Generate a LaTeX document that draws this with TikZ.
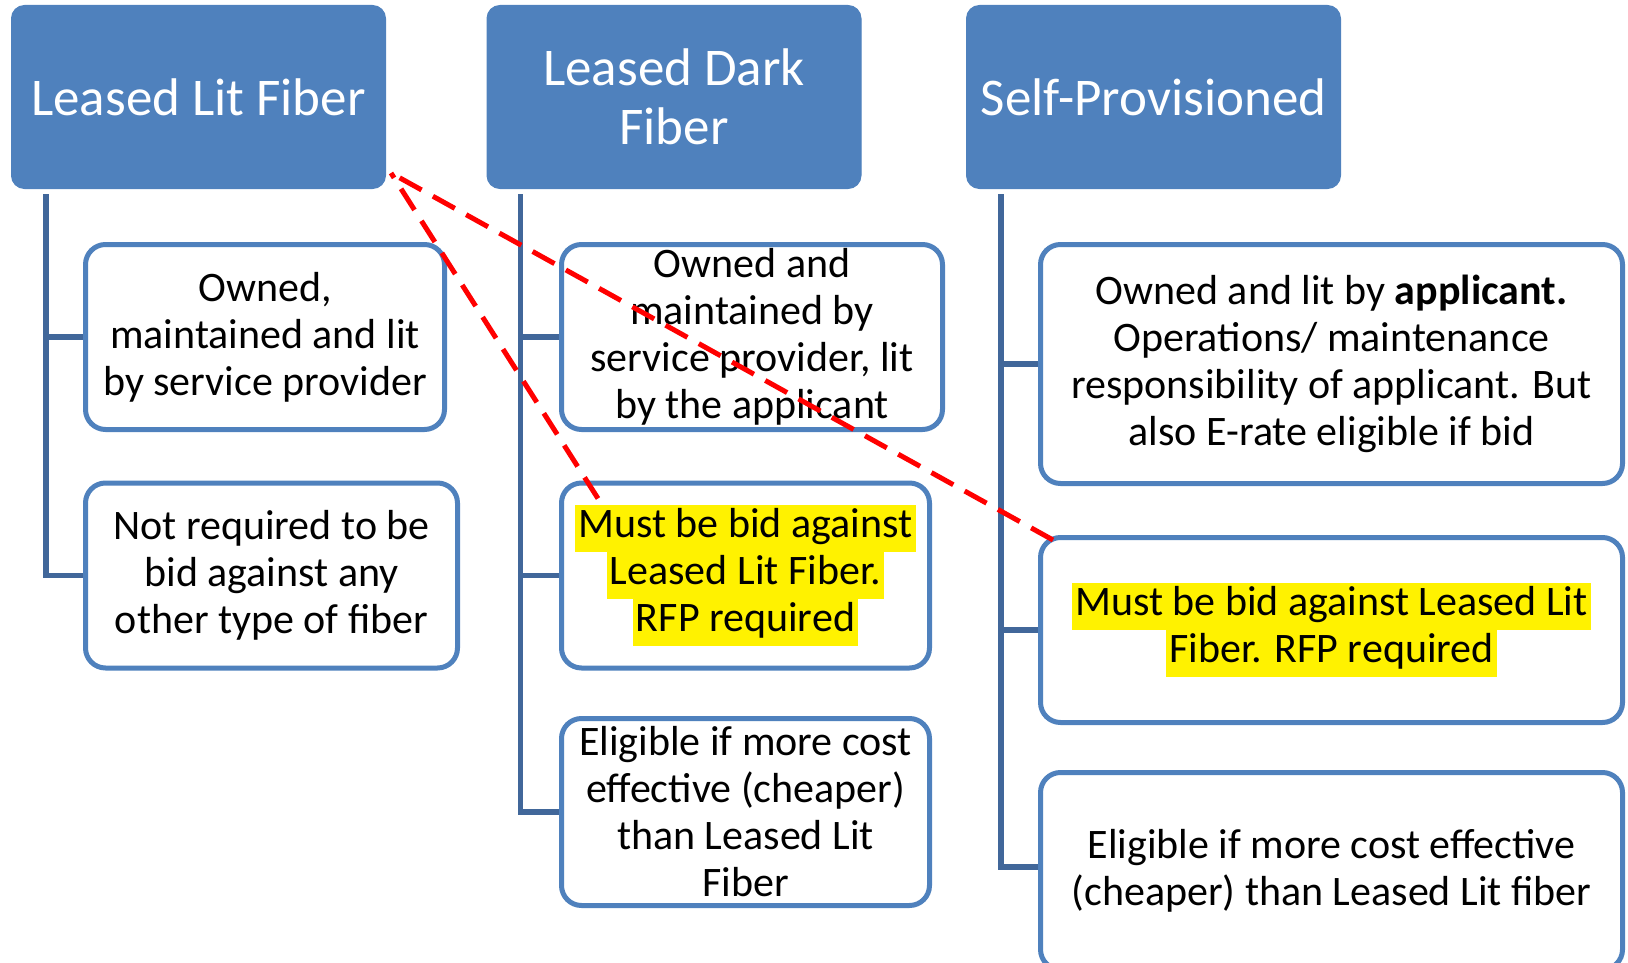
\documentclass[tikz,border=0pt]{standalone}
\usepackage{fontspec}
\setmainfont{Carlito}
\usepackage{xcolor}
\usepackage{tikz}
\usetikzlibrary{calc, positioning, backgrounds}
\definecolor{office}{RGB}{79,129,189}
\definecolor{trunkblue}{RGB}{65,103,154}
\setlength{\fboxsep}{0pt}
\newcommand{\hl}[1]{\colorbox{yellow}{\strut\kern3pt #1\kern3pt}}
\tikzset{
	header/.style={
		rectangle,
		rounded corners=13pt,
		fill=office,
		draw=office,
		line width=1pt,
		text=white,
		align=center,
		font=\fontsize{53}{59}\selectfont,
		minimum width=374pt,
		minimum height=183pt
	},
	leaf/.style={
		rectangle,
		rounded corners=20pt,
		fill=white,
		draw=office,
		line width=5pt,
		align=center,
		font=\fontsize{42}{47}\selectfont,
		minimum height=185pt
	},
	trunk/.style={
		draw=trunkblue,
		line width=5.5pt
	},
	hint/.style={
		red,
		dashed,
		dash pattern=on 25pt off 13pt,
		line width=5pt
	}
}

\begin{document}
\begin{tikzpicture}[x=1pt, y=-1pt]
		\useasboundingbox (0,0) rectangle (1628,963);

\node[header] (lit) at (198.5,97) {Leased Lit Fiber};
\node[header] (dark) at (674,97) {Leased Dark\\Fiber};
\node[header] (self) at (1153.5,97) {Self-Provisioned};

\node[leaf, minimum width=359pt] (lit1) at (265,337) {Owned,\\maintained and lit\\by service provider};
\node[leaf, minimum width=372pt] (lit2) at (271.5,575.5) {Not required to be\\bid against any\\other type of fiber};

\node[leaf, minimum width=381pt] (dark1) at (752,337) {Owned and\\maintained by\\service provider, lit\\by the applicant};
\node[leaf, minimum width=368pt] (dark2) at (745.5,575.5) {\hl{Must be bid against}\\\hl{Leased Lit Fiber.}\\\hl{RFP required}};
\node[leaf, minimum width=368pt, minimum height=187pt] (dark3) at (745.5,812) {Eligible if more cost\\effective (cheaper)\\than Leased Lit\\Fiber};

\node[leaf, minimum width=582pt, minimum height=239pt] (self1) at (1331.5,364) {Owned and lit by \textbf{applicant.}\\Operations/ maintenance\\responsibility of applicant. But\\also E-rate eligible if bid};
\node[leaf, minimum width=582pt] (self2) at (1331.5,630) {\hl{Must be bid against Leased Lit}\\\hl{Fiber. RFP required}};
\node[leaf, minimum width=582pt, minimum height=197pt] (self3) at (1331.5,871) {Eligible if more cost effective\\(cheaper) than Leased Lit fiber};

\coordinate (t1) at ([shift={(35,5)}]lit.south west);
\coordinate (t2) at ([shift={(34,5)}]dark.south west);
\coordinate (t3) at ([shift={(35,5)}]self.south west);

% branches, behind the boxes
\begin{scope}[on background layer]
\draw[trunk] (t1) |- (lit2.west);
\draw[trunk] (t1 |- lit1.west) -- (lit1.west);
\draw[trunk] (t2) |- (dark3.west);
\draw[trunk] (t2 |- dark1.west) -- (dark1.west);
\draw[trunk] (t2 |- dark2.west) -- (dark2.west);
\draw[trunk] (t3) |- ([yshift=4pt]self3.west);
\draw[trunk] (t3 |- self1.west) -- (self1.west);
\draw[trunk] (t3 |- self2.west) -- (self2.west);
\end{scope}

\coordinate (tip) at ([shift={(5,-16)}]lit.south east);
\coordinate (from1) at ([shift={(39,18)}]dark2.north west);
\coordinate (from2) at ([shift={(15,5)}]self2.north west);

\draw[hint] (from1) -- (tip);
\draw[hint] (from2) -- (tip);
	\end{tikzpicture}
\end{document}
